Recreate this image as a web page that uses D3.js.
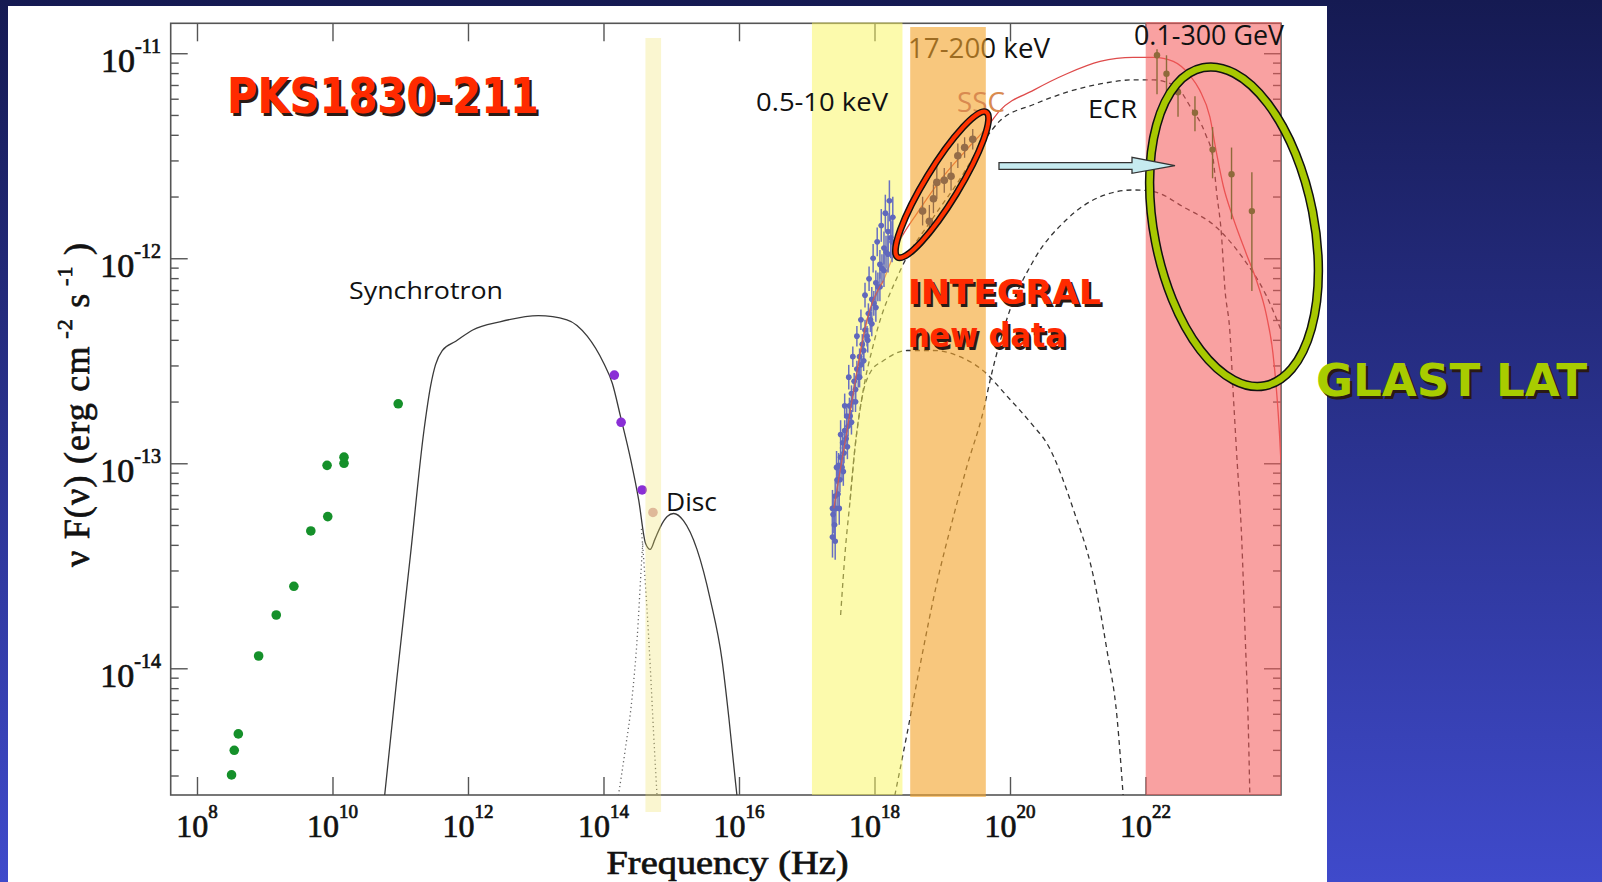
<!doctype html>
<html>
<head>
<meta charset="utf-8">
<script src="https://cdn.jsdelivr.net/npm/d3@7"></script>
<style>
  html, body { margin: 0; padding: 0; }
  body { width: 1602px; height: 882px; overflow: hidden; background: #1b2063; }
  svg { display: block; }
  .serif { font-family: "Liberation Serif", "Times New Roman", serif; fill: #111; stroke: #111; stroke-width: 0.7px; }
  .comic { font-family: "Comic Sans MS", "Open Sans", sans-serif; }
  .comicb { font-family: "Comic Sans MS", "DejaVu Sans", sans-serif; font-weight: bold; }
</style>
</head>
<body>
<svg id="chart" width="1602" height="882"></svg>
<script>
  // all values are log10(nu [Hz]) and log10(nu F_nu [erg cm-2 s-1])
  var xDomainLog = [7.612, 24.0];
  var yDomainLog = [-14.618, -10.854];
  var xTickExps = [8, 10, 12, 14, 16, 18, 20, 22];
  var yTickExps = [-14, -13, -12, -11];

  var radioPoints = [[8.51, -14.52], [8.55, -14.40], [8.61, -14.32], [8.91, -13.94], [9.17, -13.74],
    [9.43, -13.60], [9.68, -13.33], [9.93, -13.26], [9.92, -13.01], [10.17, -13.00], [10.17, -12.97], [10.97, -12.71]];
  var opticalPoints = [[14.16, -12.57], [14.26, -12.80], [14.57, -13.13]];
  var uvPoints = [[14.73, -13.24]];

  // X-ray spectra, [logNu, logF, err]
  var xrayPoints = [[17.38, -13.36, 0.10], [17.39, -13.25, 0.09], [17.41, -13.30, 0.08], [17.42, -13.16, 0.08],
    [17.43, -13.22, 0.07], [17.45, -13.08, 0.07], [17.46, -13.15, 0.06], [17.47, -13.01, 0.06], [17.49, -13.08, 0.06],
    [17.50, -12.97, 0.05], [17.52, -13.02, 0.06], [17.53, -12.90, 0.05], [17.55, -12.95, 0.05], [17.56, -12.84, 0.05],
    [17.58, -12.88, 0.05], [17.59, -12.77, 0.04], [17.61, -12.82, 0.05], [17.63, -12.72, 0.04], [17.64, -12.77, 0.05],
    [17.66, -12.66, 0.04], [17.68, -12.70, 0.05], [17.70, -12.60, 0.04], [17.72, -12.64, 0.05], [17.74, -12.54, 0.04],
    [17.76, -12.58, 0.05], [17.78, -12.48, 0.04], [17.80, -12.52, 0.05], [17.82, -12.42, 0.05], [17.84, -12.45, 0.05],
    [17.86, -12.35, 0.05], [17.89, -12.38, 0.05], [17.91, -12.27, 0.05], [17.94, -12.30, 0.06], [17.96, -12.20, 0.06],
    [17.99, -12.22, 0.06], [18.02, -12.12, 0.06], [18.05, -12.14, 0.07], [18.08, -12.03, 0.07], [18.11, -12.05, 0.07],
    [18.14, -11.95, 0.08], [18.17, -11.97, 0.08], [18.20, -11.87, 0.09], [18.24, -11.90, 0.10], [18.27, -11.80, 0.10],
    [17.38, -13.22, 0.09], [17.44, -13.02, 0.08], [17.50, -12.86, 0.07], [17.56, -12.72, 0.06], [17.62, -12.58, 0.06],
    [17.68, -12.48, 0.05], [17.74, -12.38, 0.05], [17.80, -12.30, 0.05], [17.86, -12.18, 0.06], [17.92, -12.10, 0.06],
    [17.98, -12.00, 0.07], [18.04, -11.92, 0.07], [18.10, -11.84, 0.08], [18.16, -11.78, 0.09], [18.22, -11.72, 0.10],
    [17.42, -13.38, 0.09], [17.48, -13.22, 0.08], [17.54, -13.04, 0.07], [17.60, -12.92, 0.06], [17.66, -12.80, 0.06],
    [17.72, -12.70, 0.05], [17.78, -12.58, 0.05], [17.84, -12.50, 0.05], [17.90, -12.40, 0.06], [17.96, -12.32, 0.06],
    [18.02, -12.24, 0.07], [18.08, -12.14, 0.07], [18.14, -12.06, 0.08], [18.20, -11.98, 0.09], [18.26, -11.92, 0.10]];

  // INTEGRAL: [logNu, logF, err]
  var integralPoints = [[18.71, -11.77, 0.07], [18.81, -11.82, 0.08], [18.87, -11.71, 0.07], [18.92, -11.63, 0.08],
    [19.03, -11.62, 0.06], [19.13, -11.60, 0.07], [19.23, -11.50, 0.06], [19.33, -11.46, 0.05], [19.45, -11.42, 0.05]];

  // EGRET: [logNu, logF, logF top, logF bottom]
  var egretPoints = [[22.17, -11.01, -10.98, -11.20], [22.31, -11.10, -11.01, -11.21], [22.48, -11.19, -11.13, -11.31],
    [22.73, -11.29, -11.21, -11.38], [22.99, -11.47, -11.36, -11.61], [23.27, -11.59, -11.46, -11.81],
    [23.57, -11.77, -11.58, -12.16]];

  var syncDiscModel = [[10.77, -14.62], [10.95, -14.05], [11.15, -13.45], [11.35, -12.84], [11.45, -12.62],
    [11.52, -12.52], [11.62, -12.45], [11.82, -12.405], [12.07, -12.35], [12.47, -12.31], [13.04, -12.28],
    [13.46, -12.30], [13.76, -12.38], [14.00, -12.51], [14.13, -12.61], [14.25, -12.77], [14.40, -12.98],
    [14.52, -13.18], [14.62, -13.39], [14.69, -13.42], [14.76, -13.37], [14.84, -13.31], [14.94, -13.26],
    [15.035, -13.245], [15.18, -13.28], [15.38, -13.42], [15.58, -13.67], [15.75, -13.96], [15.85, -14.24],
    [15.95, -14.56], [15.97, -14.62]];
  var syncTail = [[14.56, -13.32], [14.60, -13.50], [14.64, -13.70], [14.69, -13.99], [14.74, -14.32], [14.79, -14.62]];
  var discRise = [[14.22, -14.62], [14.32, -14.40], [14.42, -14.15], [14.50, -13.84], [14.55, -13.55], [14.58, -13.38]];

  var totalModel = [[17.40, -13.22], [17.47, -13.08], [17.59, -12.85], [17.67, -12.69], [17.89, -12.30],
    [18.13, -12.11], [18.38, -11.91], [18.63, -11.78], [18.97, -11.62], [19.36, -11.47], [19.66, -11.36],
    [19.85, -11.28], [20.35, -11.18], [20.84, -11.10], [21.33, -11.04], [21.82, -11.02], [22.12, -11.02],
    [22.41, -11.04], [22.66, -11.11], [22.80, -11.18], [22.95, -11.31], [23.05, -11.49], [23.15, -11.65],
    [23.29, -11.80], [23.49, -11.98], [23.64, -12.11], [23.78, -12.27], [23.88, -12.46], [23.93, -12.63],
    [23.98, -12.87], [24.0, -13.0]];
  var sscModel = [[17.50, -13.74], [17.57, -13.42], [17.64, -13.18], [17.71, -12.93], [17.81, -12.69],
    [17.95, -12.55], [18.13, -12.50], [18.48, -12.45], [18.87, -12.45], [19.26, -12.48], [19.61, -12.55],
    [19.95, -12.67], [20.35, -12.82], [20.54, -12.90], [20.94, -13.23], [21.23, -13.55], [21.43, -13.91],
    [21.58, -14.24], [21.67, -14.62]];
  var ecrModel = [[17.64, -13.18], [17.71, -12.93], [17.81, -12.69], [18.0, -12.40], [18.38, -12.06],
    [18.87, -11.80], [19.21, -11.64], [19.63, -11.42], [19.85, -11.33], [20.35, -11.25], [20.84, -11.19],
    [21.33, -11.15], [21.82, -11.13], [22.12, -11.13], [22.46, -11.165], [22.66, -11.26], [22.88, -11.39],
    [23.0, -11.52], [23.05, -11.68], [23.12, -11.88], [23.17, -12.14], [23.25, -12.38], [23.29, -12.63],
    [23.345, -12.95], [23.42, -13.37], [23.47, -13.83], [23.52, -14.32], [23.54, -14.62]];
  var ecrBlrModel = [[18.30, -14.62], [18.48, -14.32], [18.67, -13.99], [18.92, -13.585], [19.165, -13.26],
    [19.36, -13.02], [19.61, -12.74], [19.71, -12.59], [19.95, -12.30], [20.35, -12.01], [20.84, -11.81],
    [21.33, -11.70], [21.82, -11.667], [22.12, -11.675], [22.56, -11.75], [23.05, -11.85], [23.44, -12.0],
    [23.78, -12.18], [24.0, -12.35]];

  var bandLo = [14.619, 17.077, 18.527, 22.003];
  var bandHi = [14.85, 18.413, 19.643, 24.0];

  var W = 1602, H = 882;
  var plotL = 170.7, plotR = 1281, plotT = 23.3, plotB = 795;

  function p10(v) { return Math.pow(10, v); }
  var x = d3.scaleLog().domain(xDomainLog.map(p10)).range([plotL, plotR]);
  var y = d3.scaleLog().domain(yDomainLog.map(p10)).range([plotB, plotT]);
  var px = function (d) { return x(p10(d[0])); };
  var py = function (d) { return y(p10(d[1])); };

  var svg = d3.select('#chart');
  var defs = svg.append('defs');
  var bg = defs.append('linearGradient').attr('id', 'bg')
    .attr('x1', 0).attr('y1', 0).attr('x2', 0).attr('y2', 1);
  bg.append('stop').attr('offset', '0%').attr('stop-color', '#151a52');
  bg.append('stop').attr('offset', '100%').attr('stop-color', '#3f4acb');
  defs.append('clipPath').attr('id', 'plotClip').append('rect')
    .attr('x', plotL).attr('y', plotT).attr('width', plotR - plotL).attr('height', plotB - plotT);

  svg.append('rect').attr('width', W).attr('height', H).attr('fill', 'url(#bg)');
  svg.append('rect').attr('x', 8).attr('y', 6).attr('width', 1319).attr('height', H - 6).attr('fill', '#fff');

  // axes
  var axisColor = '#555';
  function styleAxis(g) {
    g.select('.domain').remove();
    g.selectAll('.tick line').attr('stroke', axisColor).attr('stroke-width', 1.4);
    g.selectAll('.tick text').remove();
  }
  var xTickVals = xTickExps.map(p10);
  svg.append('g').attr('transform', 'translate(0,' + plotB + ')')
    .call(d3.axisBottom(x).tickValues(xTickVals).tickSize(-18)).call(styleAxis);
  svg.append('g').attr('transform', 'translate(0,' + plotT + ')')
    .call(d3.axisTop(x).tickValues(xTickVals).tickSize(-18)).call(styleAxis);

  var yTickVals = [];
  for (var e = -15; e <= -11; e++) {
    for (var m = 1; m <= 9; m++) {
      var v = m * p10(e);
      if (v >= p10(yDomainLog[0]) && v <= p10(yDomainLog[1])) yTickVals.push(v);
    }
  }
  function isMajor(v) { return Math.abs(Math.log10(v) - Math.round(Math.log10(v))) < 1e-6; }
  svg.append('g').attr('transform', 'translate(' + plotL + ',0)')
    .call(d3.axisLeft(y).tickValues(yTickVals).tickSize(-17)).call(styleAxis)
    .selectAll('.tick line').attr('x2', function (d) { return isMajor(d) ? 17 : 8; });
  svg.append('g').attr('transform', 'translate(' + plotR + ',0)')
    .call(d3.axisRight(y).tickValues(yTickVals).tickSize(-17)).call(styleAxis)
    .selectAll('.tick line').attr('x2', function (d) { return isMajor(d) ? -17 : -8; });

  svg.append('rect').attr('x', plotL).attr('y', plotT).attr('width', plotR - plotL).attr('height', plotB - plotT)
    .attr('fill', 'none').attr('stroke', axisColor).attr('stroke-width', 1.6);

  // tick labels
  xTickExps.forEach(function (e) {
    var t = svg.append('text').attr('class', 'serif').attr('x', x(p10(e))).attr('y', 837)
      .attr('text-anchor', 'middle').attr('font-size', 32);
    t.append('tspan').text('10');
    t.append('tspan').attr('dy', -19).attr('font-size', 19).text(e);
  });
  yTickExps.forEach(function (e) {
    var t = svg.append('text').attr('class', 'serif').attr('x', 161).attr('y', y(p10(e)) + 19)
      .attr('text-anchor', 'end').attr('font-size', 34);
    t.append('tspan').text('10');
    t.append('tspan').attr('dy', -19).attr('font-size', 20).text(e);
  });

  svg.append('text').attr('class', 'serif').attr('x', 727.5).attr('y', 874)
    .attr('text-anchor', 'middle').attr('font-size', 33)
    .attr('textLength', 242).attr('lengthAdjust', 'spacingAndGlyphs')
    .text('Frequency  (Hz)');

  var yl = svg.append('text').attr('class', 'serif').attr('font-size', 36)
    .attr('transform', 'translate(89,567) rotate(-90)')
    .attr('textLength', 324).attr('lengthAdjust', 'spacing');
  yl.append('tspan').text('\u03bd F(\u03bd)  (erg cm');
  yl.append('tspan').attr('dy', -17).attr('font-size', 22).text(' -2');
  yl.append('tspan').attr('dy', 17).text('  s');
  yl.append('tspan').attr('dy', -17).attr('font-size', 22).text(' -1');
  yl.append('tspan').attr('dy', 17).text(' )');

  // models
  var plot = svg.append('g').attr('clip-path', 'url(#plotClip)');
  var line = d3.line().x(px).y(py).curve(d3.curveMonotoneX);

  plot.append('path').datum(syncDiscModel).attr('d', line)
    .attr('fill', 'none').attr('stroke', '#3a3a3a').attr('stroke-width', 1.3);
  [syncTail, discRise].forEach(function (c) {
    plot.append('path').datum(c).attr('d', line)
      .attr('fill', 'none').attr('stroke', '#666').attr('stroke-width', 1.3).attr('stroke-dasharray', '1.2,3');
  });
  [sscModel, ecrModel, ecrBlrModel].forEach(function (c) {
    plot.append('path').datum(c).attr('d', line)
      .attr('fill', 'none').attr('stroke', '#333').attr('stroke-width', 1.3).attr('stroke-dasharray', '5,4');
  });
  plot.append('path').datum(totalModel).attr('d', line)
    .attr('fill', 'none').attr('stroke', '#de4b4b').attr('stroke-width', 1.3);

  // plot labels (under the bands)
  svg.append('text').attr('class', 'comic').attr('x', 349).attr('y', 299).attr('font-size', 23)
    .attr('textLength', 154).attr('lengthAdjust', 'spacingAndGlyphs').attr('fill', '#111').text('Synchrotron');
  svg.append('text').attr('class', 'comic').attr('x', 666).attr('y', 511).attr('font-size', 25)
    .attr('textLength', 51).attr('lengthAdjust', 'spacingAndGlyphs').attr('fill', '#111').text('Disc');
  svg.append('text').attr('class', 'comic').attr('x', 1088).attr('y', 118).attr('font-size', 25)
    .attr('textLength', 49).attr('lengthAdjust', 'spacingAndGlyphs').attr('fill', '#111').text('ECR');
  svg.append('text').attr('class', 'comic').attr('x', 908).attr('y', 58).attr('font-size', 27)
    .attr('textLength', 142).attr('lengthAdjust', 'spacingAndGlyphs').attr('fill', '#111').text('17-200 keV');

  // data points
  var gData = svg.append('g');
  function dots(arr, color, r) {
    gData.selectAll(null).data(arr).enter().append('circle')
      .attr('cx', px).attr('cy', py).attr('r', r).attr('fill', color);
  }
  dots(radioPoints, '#15902a', 4.8);
  dots(opticalPoints, '#8a2fd6', 4.8);
  dots(uvPoints, '#d8a8b0', 4.8);

  // bands drawn over the plot with transparency
  var bandFill = ['rgba(240,225,100,0.3)', 'rgba(249,245,90,0.5)', 'rgba(243,164,45,0.62)', 'rgba(244,89,89,0.57)'];
  var bandTop = [38, 22.5, 27, 22];
  var bandBottom = [812, 795, 797, 795];
  bandLo.forEach(function (lo, i) {
    var x0 = x(p10(lo)), x1 = x(p10(bandHi[i]));
    svg.append('rect').attr('x', x0).attr('y', bandTop[i]).attr('width', x1 - x0)
      .attr('height', bandBottom[i] - bandTop[i]).attr('fill', bandFill[i]);
  });

  // X-ray data on top
  var blue = '#6870c2';
  var gx2 = svg.append('g');
  gx2.selectAll(null).data(xrayPoints).enter().append('line')
    .attr('x1', px).attr('x2', px)
    .attr('y1', function (d) { return y(p10(d[1] + d[2])); })
    .attr('y2', function (d) { return y(p10(d[1] - d[2])); })
    .attr('stroke', blue).attr('stroke-width', 1.5);
  gx2.selectAll(null).data(xrayPoints).enter().append('line')
    .attr('x1', function (d) { return x(p10(d[0] - 0.04)); })
    .attr('x2', function (d) { return x(p10(d[0] + 0.04)); })
    .attr('y1', py).attr('y2', py)
    .attr('stroke', blue).attr('stroke-width', 1.5);
  gx2.selectAll(null).data(xrayPoints).enter().append('circle')
    .attr('cx', px).attr('cy', py).attr('r', 2.8).attr('fill', '#6068bc');
  // the model through the X-ray data stays visible
  svg.append('path').datum(totalModel.slice(0, 6)).attr('d', line)
    .attr('fill', 'none').attr('stroke', '#d8584a').attr('stroke-width', 1.2).attr('opacity', 0.85);

  var brown = '#946c48';
  var gi = svg.append('g');
  gi.selectAll(null).data(integralPoints).enter().append('line')
    .attr('x1', px).attr('x2', px)
    .attr('y1', function (d) { return y(p10(d[1] + d[2])); })
    .attr('y2', function (d) { return y(p10(d[1] - d[2])); })
    .attr('stroke', brown).attr('stroke-width', 1.3);
  gi.selectAll(null).data(integralPoints).enter().append('line')
    .attr('x1', function (d) { return x(p10(d[0] - 0.04)); })
    .attr('x2', function (d) { return x(p10(d[0] + 0.04)); })
    .attr('y1', py).attr('y2', py)
    .attr('stroke', brown).attr('stroke-width', 1.3);
  gi.selectAll(null).data(integralPoints).enter().append('circle')
    .attr('cx', px).attr('cy', py).attr('r', 3.8).attr('fill', brown);

  var ge = svg.append('g');
  ge.selectAll(null).data(egretPoints).enter().append('line')
    .attr('x1', px).attr('x2', px)
    .attr('y1', function (d) { return y(p10(d[2])); })
    .attr('y2', function (d) { return y(p10(d[3])); })
    .attr('stroke', '#8e6a3a').attr('stroke-width', 1.4);
  ge.selectAll(null).data(egretPoints).enter().append('circle')
    .attr('cx', px).attr('cy', py).attr('r', 3.2).attr('fill', '#8e6a3a');

  // labels above the bands
  svg.append('text').attr('class', 'comic').attr('x', 756).attr('y', 111).attr('font-size', 26)
    .attr('textLength', 132).attr('lengthAdjust', 'spacingAndGlyphs').attr('fill', '#111').text('0.5-10 keV');
  svg.append('text').attr('class', 'comic').attr('x', 1134).attr('y', 45).attr('font-size', 27)
    .attr('textLength', 150).attr('lengthAdjust', 'spacingAndGlyphs').attr('fill', '#111').text('0.1-300 GeV');
  svg.append('text').attr('class', 'comic').attr('x', 957).attr('y', 112).attr('font-size', 27)
    .attr('textLength', 48).attr('lengthAdjust', 'spacingAndGlyphs').attr('fill', '#d98a50').text('SSC');

  // annotations
  function ringEllipse(cx, cy, rx, ry, angle, color, w) {
    var t = 'rotate(' + angle + ' ' + cx + ' ' + cy + ')';
    svg.append('ellipse').attr('cx', cx).attr('cy', cy).attr('rx', rx).attr('ry', ry).attr('transform', t)
      .attr('fill', 'none').attr('stroke', '#111').attr('stroke-width', w + 3);
    svg.append('ellipse').attr('cx', cx).attr('cy', cy).attr('rx', rx).attr('ry', ry).attr('transform', t)
      .attr('fill', 'none').attr('stroke', color).attr('stroke-width', w);
  }
  ringEllipse(942, 184.7, 85, 17, -58.6, '#ff3300', 4);
  ringEllipse(1234, 226.7, 80, 162, -11, '#a8c800', 6.5);

  svg.append('polygon')
    .attr('points', [[999, 162.7], [1132, 162.7], [1132, 157.3], [1175, 165.7], [1132, 173.3], [1132, 169.3], [999, 169.3]].join(' '))
    .attr('fill', '#c6ebf0').attr('stroke', '#333').attr('stroke-width', 1.3);

  function shadowText(txt, x0, y0, size, len, color) {
    svg.append('text').attr('class', 'comicb').attr('x', x0 + 2.5).attr('y', y0 + 2.5).attr('font-size', size)
      .attr('textLength', len).attr('lengthAdjust', 'spacingAndGlyphs').attr('fill', '#2a1a14').text(txt);
    svg.append('text').attr('class', 'comicb').attr('x', x0).attr('y', y0).attr('font-size', size)
      .attr('textLength', len).attr('lengthAdjust', 'spacingAndGlyphs').attr('fill', color).text(txt);
  }
  shadowText('PKS1830-211', 227, 113, 50, 312, '#ff2a00');
  shadowText('INTEGRAL', 908, 304, 34, 193, '#ff2a00');
  shadowText('new data', 908, 347, 34, 158, '#ff2a00');
  shadowText('GLAST LAT', 1316, 396, 44, 271, '#a8cc00');
</script>
</body>
</html>
